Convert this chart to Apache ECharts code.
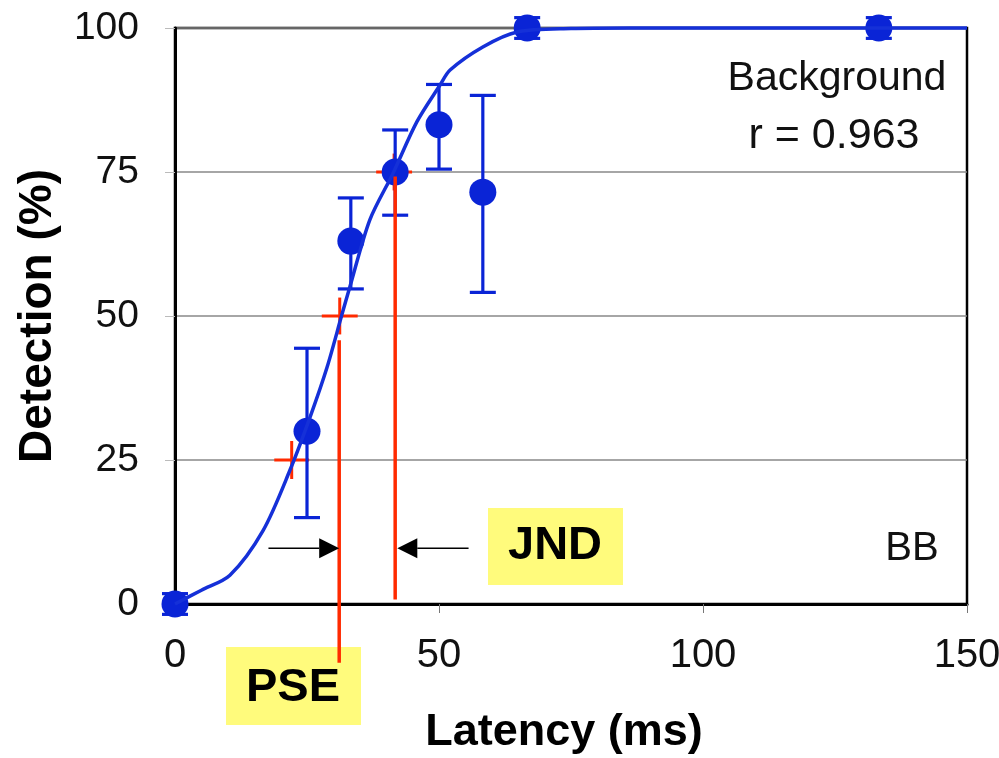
<!DOCTYPE html>
<html>
<head>
<meta charset="utf-8">
<script src="https://cdn.jsdelivr.net/npm/echarts@6/dist/echarts.min.js"></script>
<style>html,body{margin:0;padding:0;background:#fff}#c{width:999px;height:758px}</style>
</head>
<body>
<div id="c"></div>
<script>
// measured data points
var latency   = [0, 25, 33.3, 41.7, 50, 58.3, 66.7, 133.3];
var detection = [0, 30, 63, 75, 83.2, 71.5, 100, 100];
var errLow    = [-1.8, 15, 54.7, 67.5, 75.5, 54.1, 98.2, 98.2];
var errHigh   = [1.8, 44.4, 70.5, 82.3, 90.2, 88.3, 101.8, 101.8];
// fitted curve
var fitX = [0, 5, 10.4, 16.7, 21.8, 25.6, 28.8, 31.6, 33.1, 36.9, 41.3, 45.8, 50.2, 52.1, 58.3, 64.8, 75, 86, 150];
var fitY = [0, 2.4, 5.0, 12.8, 23.3, 32.5, 41.1, 50.2, 55.0, 66.7, 74.8, 83.7, 90.1, 92.7, 96.7, 99.3, 99.9, 100, 100];
// threshold crosses (x, y, xErr, yErr)
var crossX = [22.1, 31.2, 41.5];
var crossY = [25, 50, 75];
var crossDX = [3.3, 3.4, 3.4];
var crossDY = [3.3, 3.2, 3.2];
// PSE / JND vertical lines (x, yStart, yEnd)
var markX  = [31.1, 41.7];
var markY0 = [-10.2, 0.8];
var markY1 = [45.8, 74.2];
// arrows (from x, to x, y)
var arrowFrom = [17.7, 55.6];
var arrowTo   = [31.1, 42.1];
var arrowY    = [9.7, 9.7];
// axis ticks
var xTicks = [0, 50, 100, 150];
var yTicks = [0, 25, 50, 75, 100];

var FONT = '"Liberation Sans", Arial, Helvetica, sans-serif';
var BLUE = '#0a24d6';
var RED = '#ff2a00';

var chart = echarts.init(document.getElementById('c'), null, {renderer: 'canvas'});

var errData = latency.map(function (x, i) { return [x, errLow[i], errHigh[i]]; });
var crossData = crossX.map(function (x, i) { return [x, crossY[i], crossDX[i], crossDY[i]]; });
var vlineData = markX.map(function (x, i) { return [x, markY0[i], markY1[i]]; });
var arrowData = arrowFrom.map(function (x, i) { return [x, arrowTo[i], arrowY[i]]; });

var option = {
  animation: false,
  backgroundColor: '#fff',
  grid: {left: 175, right: 32, top: 28, bottom: 154, outerBoundsMode: 'none', containLabel: false,
         show: true, borderColor: '#000', borderWidth: 2.5, backgroundColor: '#fff'},
  xAxis: {
    type: 'value', min: xTicks[0], max: xTicks[xTicks.length - 1], interval: 50,
    name: 'Latency (ms)', nameLocation: 'middle', nameGap: 106,
    nameTextStyle: {fontFamily: FONT, fontWeight: 'bold', fontSize: 45, color: '#000', padding: [0, 14, 0, 0]},
    axisLine: {show: true, lineStyle: {color: '#000', width: 3}},
    axisTick: {show: true, length: 9, lineStyle: {color: '#777', width: 1}},
    axisLabel: {fontFamily: FONT, fontSize: 40, color: '#111', margin: 32},
    splitLine: {show: false}
  },
  yAxis: {
    type: 'value', min: yTicks[0], max: yTicks[yTicks.length - 1], interval: 25,
    name: 'Detection (%)', nameLocation: 'middle', nameGap: 114,
    nameTextStyle: {fontFamily: FONT, fontWeight: 'bold', fontSize: 46, color: '#000'},
    axisLine: {show: true, lineStyle: {color: '#000', width: 3}},
    axisTick: {show: true, length: 10, lineStyle: {color: '#bbb', width: 1}},
    axisLabel: {fontFamily: FONT, fontSize: 39, color: '#111', margin: 36},
    splitLine: {show: true, lineStyle: {color: '#888', width: 1.5}}
  },
  graphic: [
    {type: 'rect', shape: {x: 226, y: 647, width: 135, height: 78}, style: {fill: '#fffb7c'}, z: 0},
    {type: 'rect', shape: {x: 488, y: 508, width: 135, height: 77}, style: {fill: '#fffb7c'}, z: 0},
    {type: 'text', x: 293, y: 688, z: 1, style: {text: 'PSE', fontFamily: FONT, fontWeight: 'bold', fontSize: 47, fill: '#000', align: 'center', verticalAlign: 'middle'}},
    {type: 'text', x: 555, y: 546, z: 1, style: {text: 'JND', fontFamily: FONT, fontWeight: 'bold', fontSize: 47, fill: '#000', align: 'center', verticalAlign: 'middle'}},
    {type: 'text', x: 837, y: 79, z: 1, style: {text: 'Background', fontFamily: FONT, fontSize: 41, fill: '#111', align: 'center', verticalAlign: 'middle'}},
    {type: 'text', x: 834, y: 136, z: 1, style: {text: 'r = 0.963', fontFamily: FONT, fontSize: 43, fill: '#111', align: 'center', verticalAlign: 'middle'}},
    {type: 'text', x: 912, y: 549, z: 1, style: {text: 'BB', fontFamily: FONT, fontSize: 40, fill: '#111', align: 'center', verticalAlign: 'middle'}}
  ],
  series: [
    {
      type: 'custom', name: 'crosses', z: 3, clip: false,
      data: crossData,
      renderItem: function (params, api) {
        var x = api.value(0), y = api.value(1), dx = api.value(2), dy = api.value(3);
        var l = api.coord([x - dx, y]), r = api.coord([x + dx, y]);
        var t = api.coord([x, y + dy]), b = api.coord([x, y - dy]);
        var st = {stroke: RED, lineWidth: 3};
        return {type: 'group', children: [
          {type: 'line', shape: {x1: l[0], y1: l[1], x2: r[0], y2: r[1]}, style: st},
          {type: 'line', shape: {x1: t[0], y1: t[1], x2: b[0], y2: b[1]}, style: st}
        ]};
      }
    },
    {
      type: 'custom', name: 'errors', z: 4, clip: false,
      data: errData,
      renderItem: function (params, api) {
        var x = api.value(0);
        var lo = api.coord([x, api.value(1)]), hi = api.coord([x, api.value(2)]);
        var w = 13;
        var st = {stroke: BLUE, lineWidth: 3.2};
        return {type: 'group', children: [
          {type: 'line', shape: {x1: hi[0], y1: hi[1], x2: lo[0], y2: lo[1]}, style: st},
          {type: 'line', shape: {x1: hi[0] - w, y1: hi[1], x2: hi[0] + w, y2: hi[1]}, style: st},
          {type: 'line', shape: {x1: lo[0] - w, y1: lo[1], x2: lo[0] + w, y2: lo[1]}, style: st}
        ]};
      }
    },
    {
      type: 'scatter', name: 'data', z: 5,
      symbol: 'circle', symbolSize: 27,
      itemStyle: {color: BLUE, opacity: 1},
      data: latency.map(function (x, i) { return [x, detection[i]]; }),
      clip: false
    },
    {
      type: 'line', name: 'fit', z: 6,
      data: fitX.map(function (x, i) { return [x, fitY[i]]; }),
      smooth: 0.3, showSymbol: false, symbol: 'none',
      lineStyle: {color: '#1530d8', width: 3.5},
      clip: false
    },
    {
      type: 'custom', name: 'vlines', z: 7, clip: false,
      data: vlineData,
      renderItem: function (params, api) {
        var x = api.value(0);
        var a = api.coord([x, api.value(1)]), b = api.coord([x, api.value(2)]);
        return {type: 'line', shape: {x1: a[0], y1: a[1], x2: b[0], y2: b[1]}, style: {stroke: RED, lineWidth: 3.5}};
      }
    },
    {
      type: 'custom', name: 'arrows', z: 7, clip: false,
      data: arrowData,
      renderItem: function (params, api) {
        var y = api.value(2);
        var a = api.coord([api.value(0), y]), b = api.coord([api.value(1), y]);
        var dir = b[0] > a[0] ? 1 : -1;
        var hl = 20, hw = 10;
        var base = b[0] - dir * hl;
        return {type: 'group', children: [
          {type: 'line', shape: {x1: a[0], y1: a[1], x2: base, y2: b[1]}, style: {stroke: '#000', lineWidth: 1.5}},
          {type: 'polygon', shape: {points: [[b[0], b[1]], [base, b[1] - hw], [base, b[1] + hw]]}, style: {fill: '#000'}}
        ]};
      }
    }
  ]
};
chart.setOption(option);
</script>
</body>
</html>
